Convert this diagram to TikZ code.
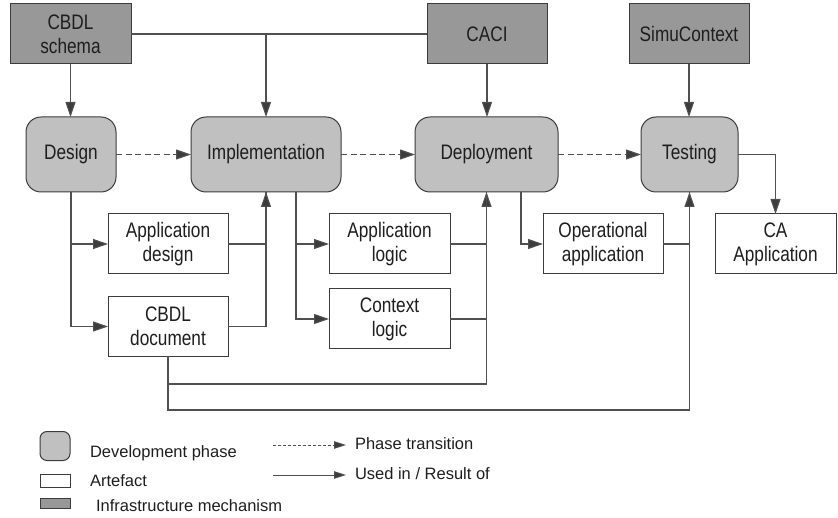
\documentclass[tikz,border=0pt]{standalone}
\usepackage{fontspec}
\setmainfont{Liberation Sans}[FakeStretch=0.82]
\newfontfamily\legendfont{Liberation Sans}
\usetikzlibrary{arrows.meta}
\definecolor{infra}{HTML}{989898}
\definecolor{phasec}{HTML}{C0C0C0}
\definecolor{edge}{HTML}{3C3C3C}
\definecolor{wire}{HTML}{505050}
\definecolor{txt}{HTML}{1E1E1E}
\begin{document}
\begin{tikzpicture}[x=1pt,y=-1pt,
  every node/.style={inner sep=0pt,outer sep=0pt,text=txt,font=\fontsize{21}{24}\selectfont,align=center},
  infrabox/.style={rectangle,draw=edge,line width=1pt,fill=infra,minimum width=120pt,minimum height=60pt},
  phasebox/.style={rectangle,rounded corners=15pt,draw=edge,line width=1pt,fill=phasec,minimum height=75pt},
  artbox/.style={rectangle,draw=edge,line width=1pt,fill=white,minimum width=120pt,minimum height=60pt},
  wireline/.style={draw=wire,line width=1.1pt},
  arr/.style={wireline,-{Triangle[length=15pt,width=10pt,fill=edge]}},
  trans/.style={arr,dash pattern=on 6pt off 3.5pt},
  legtext/.style={font=\legendfont\fontsize{16.5}{18}\selectfont,anchor=base west},
  legarr/.style={wireline,line width=0.9pt,-{Triangle[length=12pt,width=7.5pt,fill=edge]}}
]
\useasboundingbox (0,0) rectangle (838,518);

% infrastructure
\node[infrabox,minimum width=121pt] (schema) at (70.5,34) {CBDL\\schema};
\node[infrabox] (caci) at (487,34) {CACI};
\node[infrabox] (simu) at (689,34) {SimuContext};

% phases
\node[phasebox,minimum width=90pt] (design) at (71,154.5) {Design};
\node[phasebox,minimum width=150pt] (impl) at (266,154.5) {Implementation};
\node[phasebox,minimum width=143pt] (deploy) at (486.5,154.5) {Deployment};
\node[phasebox,minimum width=97pt] (testing) at (689.5,154.5) {Testing};

% artefacts
\node[artbox] (appdesign) at (168,244) {Application\\design};
\node[artbox] (cbdldoc) at (168,326.5) {CBDL\\document};
\node[artbox,minimum width=121pt] (applogic) at (389.5,244) {Application\\logic};
\node[artbox,minimum width=121pt] (ctxlogic) at (389.5,319) {Context\\logic};
\node[artbox] (opapp) at (603,244) {Operational\\application};
\node[artbox,minimum width=121pt] (caapp) at (775.5,244) {CA\\Application};

% infrastructure links
\draw[wireline] (schema.east) -- (caci.west);
\draw[arr] (schema.south) -- (schema.south |- design.north);
\draw[arr] (impl.north |- schema.east) -- (impl.north);
\draw[arr] (caci.south) -- (caci.south |- deploy.north);
\draw[arr] (simu.south) -- (simu.south |- testing.north);

% phase transitions
\draw[trans] (design.east) -- (impl.west);
\draw[trans] (impl.east) -- (deploy.west);
\draw[trans] (deploy.east) -- (testing.west);

% design
\draw[arr] (design.south) |- (appdesign.west);
\draw[arr] (design.south) |- (cbdldoc.west);
\draw[wireline] (cbdldoc.east) -| (impl.south);
\draw[arr] (appdesign.east) -| (impl.south);

% implementation
\coordinate (implout) at ([xshift=30pt]impl.south);
\draw[arr] (implout) |- (applogic.west);
\draw[arr] (implout) |- (ctxlogic.west);
\draw[wireline] (ctxlogic.east) -| (deploy.south);
\draw[arr] (applogic.east) -| (deploy.south);

% CBDL document to deployment and testing
\coordinate (j1) at (486.5,384);
\coordinate (j2) at (689.5,410);
\draw[wireline] (cbdldoc.south) |- (j1) -- (deploy.south);
\draw[wireline] (cbdldoc.south) |- (j2) -- (testing.south);

% deployment
\coordinate (depout) at ([xshift=34.5pt]deploy.south);
\draw[arr] (depout) |- (opapp.west);
\draw[arr] (opapp.east) -| (testing.south);

% testing
\draw[arr] (testing.east) -| (caapp.north);

% legend
\node[rectangle,rounded corners=7pt,draw=edge,line width=1pt,fill=phasec,minimum width=30pt,minimum height=29pt] (lphase) at (55,446) {};
\node[rectangle,draw=edge,line width=0.9pt,fill=white,minimum width=30pt,minimum height=13pt] (lart) at (55,480.5) {};
\node[rectangle,draw=edge,line width=0.9pt,fill=infra,minimum width=30pt,minimum height=10pt] (linfra) at (55,503.5) {};
\node[legtext] (tphase) at (90,457) {Development phase};
\node[legtext] (tart) at (90,486) {Artefact};
\node[legtext] (tinfra) at (96,511) {Infrastructure mechanism};
\node[legtext,anchor=west] (ttrans) at (355,444) {Phase transition};
\node[legtext,anchor=west] (tused) at (355,474) {Used in / Result of};
\coordinate (ld1) at (273,445);
\coordinate (ld2) at (273,475);
\coordinate (le1) at (346,445);
\coordinate (le2) at (346,475);
\draw[legarr,dash pattern=on 3pt off 2pt] (ld1) -- (le1);
\draw[legarr] (ld2) -- (le2);
\end{tikzpicture}
\end{document}
